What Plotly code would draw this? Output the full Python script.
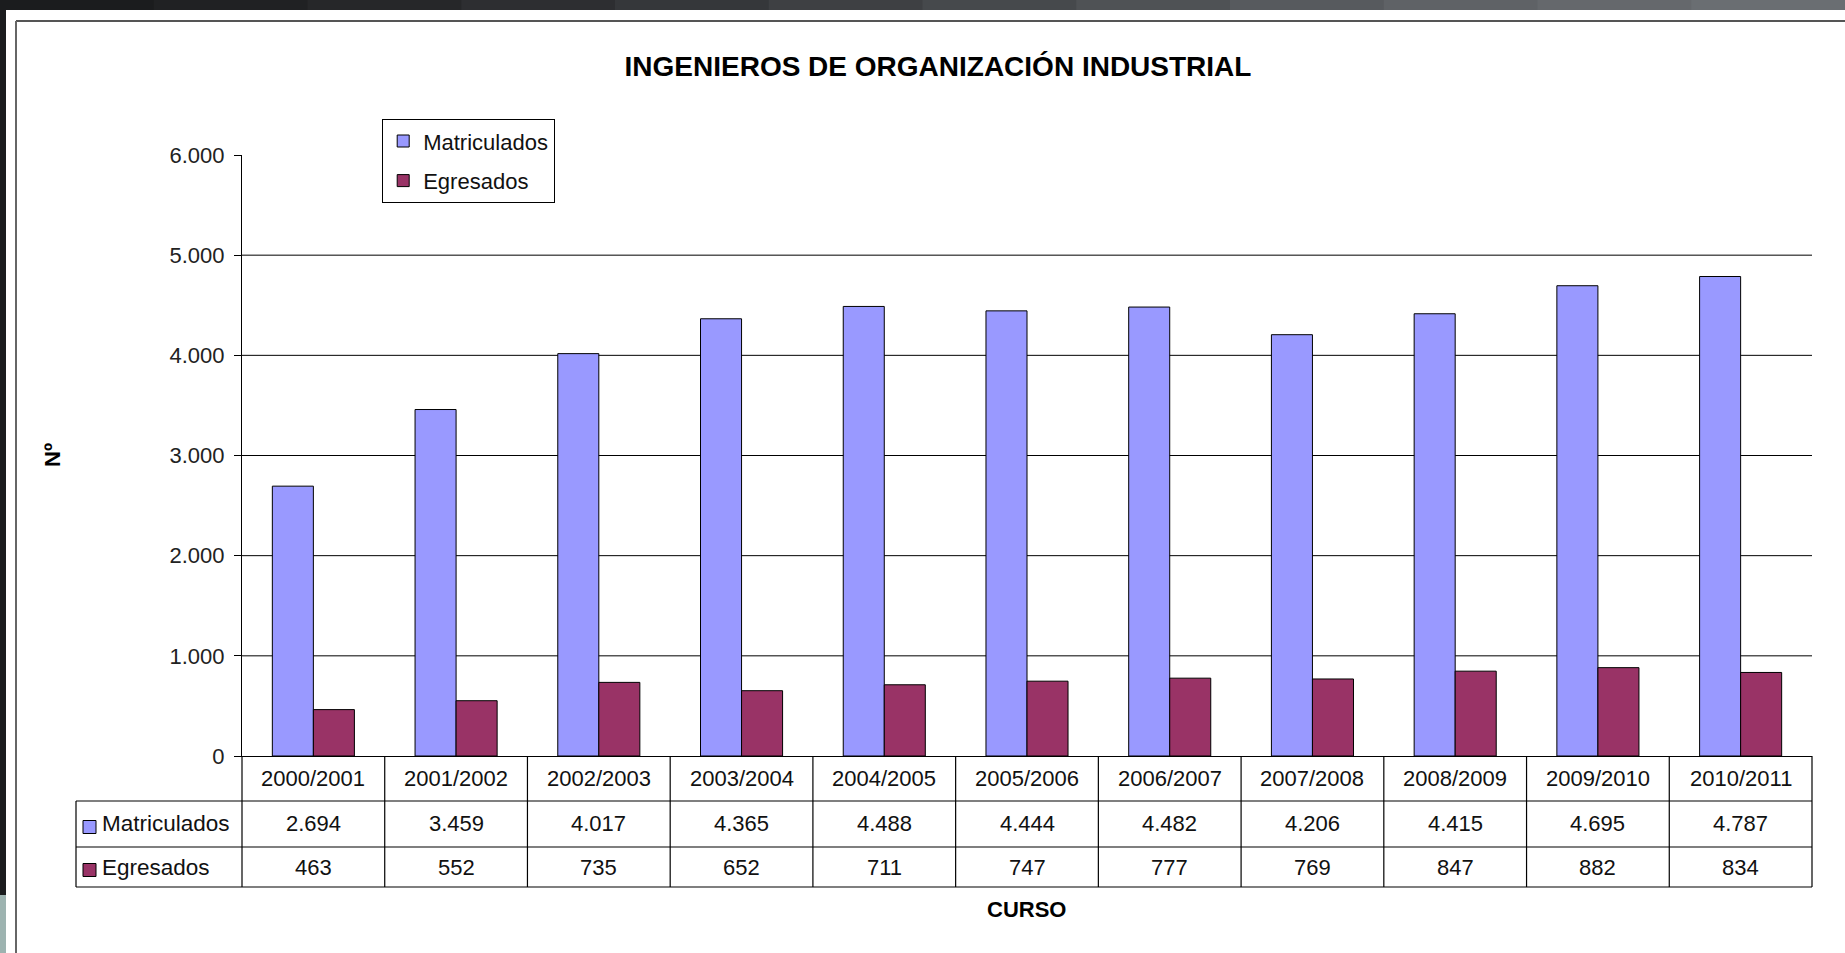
import plotly.graph_objects as go

# ---------------- data ----------------
cursos = ["2000/2001", "2001/2002", "2002/2003", "2003/2004", "2004/2005", "2005/2006",
          "2006/2007", "2007/2008", "2008/2009", "2009/2010", "2010/2011"]
matriculados = [2694, 3459, 4017, 4365, 4488, 4444, 4482, 4206, 4415, 4695, 4787]
egresados = [463, 552, 735, 652, 711, 747, 777, 769, 847, 882, 834]
y_ticks = [0, 1000, 2000, 3000, 4000, 5000, 6000]
grid_vals = [1000, 2000, 3000, 4000, 5000]

title_text = "INGENIEROS DE ORGANIZACIÓN INDUSTRIAL"
serie_names = ["Matriculados", "Egresados"]
serie_colors = ["#9999FF", "#993366"]

# ---------------- layout geometry (pixels) ----------------
W, H = 1845, 953
L, R, T, B = 242, 1812, 155, 756
PW, PH = R - L, B - T


def px(x):
    return (x - L) / PW


def py(y):
    return (B - y) / PH


FONT = "Liberation Sans, Arial, sans-serif"


def fmt(v):
    return f"{v:,}".replace(",", ".")


fig = go.Figure()
for name, vals, col in zip(serie_names, [matriculados, egresados], serie_colors):
    fig.add_trace(go.Bar(
        x=cursos, y=vals, name=name, legendgroup=name,
        marker=dict(color=col, line=dict(color="black", width=1)),
    ))

shapes = []
annotations = []

# background frame decorations
top_cols = ["#1b1c1e", "#202123", "#262729", "#2d2e31", "#35373a", "#3e4043",
            "#46494c", "#4f5255", "#575a5e", "#5f6266", "#65686c", "#6a6e72"]
seg = W / len(top_cols)
for i, c in enumerate(top_cols):
    shapes.append(dict(type="rect", xref="paper", yref="paper",
                       x0=px(i * seg), x1=px((i + 1) * seg + 1), y0=py(0), y1=py(10),
                       fillcolor=c, line=dict(width=0), layer="below"))
shapes.append(dict(type="rect", xref="paper", yref="paper",
                   x0=px(0), x1=px(6), y0=py(0), y1=py(895),
                   fillcolor="#1b1c1e", line=dict(width=0), layer="below"))
shapes.append(dict(type="rect", xref="paper", yref="paper",
                   x0=px(0), x1=px(6), y0=py(895), y1=py(953),
                   fillcolor="#9db3b0", line=dict(width=0), layer="below"))
# frame border
shapes.append(dict(type="line", xref="paper", yref="paper",
                   x0=px(16), x1=px(1845), y0=py(21), y1=py(21),
                   line=dict(color="#555555", width=2)))
shapes.append(dict(type="line", xref="paper", yref="paper",
                   x0=px(16), x1=px(16), y0=py(21), y1=py(953),
                   line=dict(color="#666666", width=2)))

# gridlines (no line at the 6.000 top)
for g in grid_vals:
    shapes.append(dict(type="line", xref="paper", yref="y", x0=0, x1=1, y0=g, y1=g,
                       line=dict(color="black", width=1), layer="below"))

# data table
row_top, row1, row2, row3 = B, 801, 847, 887
LBL = 76
lw = dict(color="black", width=1.2)
for yy in (row1, row2, row3):
    shapes.append(dict(type="line", xref="paper", yref="paper",
                       x0=px(LBL), x1=1, y0=py(yy), y1=py(yy), line=lw))
shapes.append(dict(type="line", xref="paper", yref="paper",
                   x0=px(LBL), x1=px(LBL), y0=py(row1), y1=py(row3), line=lw))
shapes.append(dict(type="line", xref="paper", yref="paper",
                   x0=0, x1=0, y0=py(row_top), y1=py(row3), line=lw))
shapes.append(dict(type="line", xref="paper", yref="paper",
                   x0=1, x1=1, y0=py(row_top), y1=py(row3), line=lw))
for i in range(1, len(cursos)):
    shapes.append(dict(type="line", xref="x", yref="paper",
                       x0=i - 0.5, x1=i - 0.5, y0=py(row_top), y1=py(row3), line=lw))

tfont = dict(family=FONT, size=22, color="#111111")
for i, c in enumerate(cursos):
    annotations.append(dict(x=c, xref="x", y=py((row_top + row1) / 2), yref="paper",
                            text=c, showarrow=False, font=tfont,
                            xanchor="center", yanchor="middle"))
for vals, (ya, yb) in zip([matriculados, egresados], [(row1, row2), (row2, row3)]):
    for c, v in zip(cursos, vals):
        annotations.append(dict(x=c, xref="x", y=py((ya + yb) / 2), yref="paper",
                                text=fmt(v), showarrow=False, font=tfont,
                                xanchor="center", yanchor="middle"))

for name, col, (ya, yb) in zip(serie_names, serie_colors, [(row1, row2), (row2, row3)]):
    yc = (ya + yb) / 2 + 3
    shapes.append(dict(type="rect", xref="paper", yref="paper",
                       x0=px(83), x1=px(96), y0=py(yc - 6.5), y1=py(yc + 6.5),
                       fillcolor=col, line=dict(color="black", width=1)))
    annotations.append(dict(x=px(100), xref="paper", y=py((ya + yb) / 2), yref="paper",
                            text=name, showarrow=False, font=dict(tfont, size=22.5),
                            xanchor="left", yanchor="middle"))

# axis titles
annotations.append(dict(x=px(52), xref="paper", y=py(455), yref="paper",
                        text="<b>Nº</b>", textangle=-90, showarrow=False,
                        font=dict(family=FONT, size=22, color="black"),
                        xanchor="center", yanchor="middle"))
annotations.append(dict(x=px(1026), xref="paper", y=py(909), yref="paper",
                        text="<b>CURSO</b>", showarrow=False,
                        font=dict(family=FONT, size=22, color="black"),
                        xanchor="center", yanchor="middle"))

fig.update_layout(
    width=W, height=H,
    margin=dict(l=L, r=W - R, t=T, b=H - B, pad=0),
    paper_bgcolor="white", plot_bgcolor="white",
    separators=",.",
    barmode="group", bargap=0.425, bargroupgap=0,
    title=dict(text="<b>" + title_text + "</b>", xref="container", yref="container",
               x=938 / W, y=1 - 66 / H, xanchor="center", yanchor="middle",
               font=dict(family=FONT, size=28, color="black")),
    font=dict(family=FONT, size=22, color="#111111"),
    showlegend=True,
    legend=dict(x=px(382), y=py(119), xanchor="left", yanchor="top",
                bgcolor="white", bordercolor="black", borderwidth=1.2,
                font=dict(family=FONT, size=22, color="#111111"),
                itemwidth=30, traceorder="grouped", tracegroupgap=8),
    xaxis=dict(type="category", showticklabels=False, ticks="", showgrid=False,
               showline=True, linecolor="black", linewidth=1.2, zeroline=False,
               range=[-0.5, len(cursos) - 0.5], fixedrange=True),
    yaxis=dict(range=[0, 6000], tickvals=y_ticks, tickformat=",d", showgrid=False,
               zeroline=False, showline=True, linecolor="black", linewidth=1.2,
               ticks="outside", ticklen=7, tickcolor="black", tickwidth=1.2,
               ticklabelstandoff=5,
               tickfont=dict(family=FONT, size=22, color="#222222")),
    shapes=shapes, annotations=annotations,
)

fig.write_html("out.html", config={"displayModeBar": False},
               post_script="document.body.style.margin='0';document.body.style.overflow='hidden';")
